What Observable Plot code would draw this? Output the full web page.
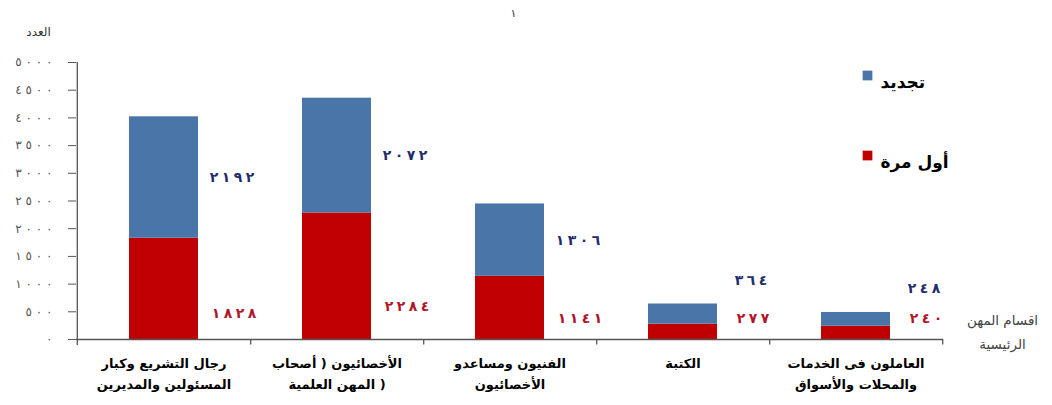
<!DOCTYPE html>
<html>
<head>
<meta charset="utf-8">
<script src="https://cdn.jsdelivr.net/npm/d3@7"></script>
<script src="https://cdn.jsdelivr.net/npm/@observablehq/plot@0.6"></script>
<style>
  html, body { margin: 0; padding: 0; background: #fff; }
</style>
</head>
<body>
<div id="chart"></div>
<script>
const categories = [
  "رجال التشريع وكبار\nالمسئولين والمديرين",
  "الأخصائيون ( أصحاب\nالمهن العلمية )",
  "الفنيون ومساعدو\nالأخصائيون",
  "الكتبة",
  "العاملون فى الخدمات\nوالمحلات والأسواق"
];
const firstTime = [1828, 2284, 1141, 277, 240];
const renewal = [2192, 2072, 1306, 364, 248];
const seriesNames = ["أول مرة", "تجديد"];
const yTicks = [0, 500, 1000, 1500, 2000, 2500, 3000, 3500, 4000, 4500, 5000];
const yTitle = "العدد";
const xTitle = "اقسام المهن\nالرئيسية";
const pageMark = "١";

const RED = "#c00000", BLUE = "#4a75a9";
// Arabic-Indic digits, spaced out, forced left-to-right
const ar = (n, sep = " ") => "\u202D" + String(n).replace(/\d/g, d => "٠١٢٣٤٥٦٧٨٩"[d]).split("").join(sep) + "\u202C";

const rows = [];
categories.forEach((c, i) => {
  rows.push({cat: c, series: seriesNames[0], value: firstTime[i]});
  rows.push({cat: c, series: seriesNames[1], value: renewal[i]});
});
// label anchors: red near the base, blue mid-segment (or above the bar when the segment is short)
const redLabels = categories.map((c, i) => ({cat: c, v: firstTime[i], y: Math.max(380, firstTime[i] * 0.26)}));
const blueLabels = categories.map((c, i) => {
  const total = firstTime[i] + renewal[i];
  return {cat: c, v: renewal[i], y: renewal[i] > 800 ? firstTime[i] + renewal[i] / 2 : total + 430};
});

const W = 1052, H = 405, ML = 76, MR = 109, MT = 62, MB = 66;
const step = (W - ML - MR) / categories.length;

const plot = Plot.plot({
  width: W, height: H,
  marginLeft: ML, marginRight: MR, marginTop: MT, marginBottom: MB,
  style: {fontFamily: "'DejaVu Sans', sans-serif", background: "#fff", color: "#000"},
  x: {domain: categories, paddingInner: 0.6, paddingOuter: 0.3, label: null},
  y: {domain: [0, 5000], label: null},
  color: {domain: seriesNames, range: [RED, BLUE]},
  marks: [
    Plot.axisY({ticks: yTicks, tickFormat: d => ar(d, " "), tickSize: 8, tickPadding: 16, fontSize: 12, fill: "#555", stroke: "#555", label: null}),
    Plot.axisX({tickSize: 0, tickPadding: 14, fontSize: 13, fontWeight: "bold", lineHeight: 1.6, label: null}),
    Plot.barY(rows, {x: "cat", y: "value", fill: "series"}),
    Plot.ruleY([0], {stroke: "#555", strokeWidth: 1.3}),
    Plot.ruleX([categories[0]], {x: d => d, dx: -step / 2, y1: -110, y2: 5000, stroke: "#555", strokeWidth: 1.3}),
    Plot.ruleX(categories, {x: d => d, dx: step / 2, y1: 0, y2: -100, stroke: "#555", strokeWidth: 1.3}),
    Plot.text(blueLabels, {x: "cat", y: "y", text: d => ar(d.v, "\u2005"), dx: 68, fontSize: 14, fontWeight: "bold", fill: "#1f2d6b"}),
    Plot.text(redLabels, {x: "cat", y: "y", text: d => ar(d.v, "\u2005"), dx: 70, fontSize: 14, fontWeight: "bold", fill: "#b0152a"}),
    // legend
    Plot.dot([seriesNames[1]], {frameAnchor: "top-left", dx: 791, dy: 13, symbol: "square", r: 5.5, fill: BLUE}),
    Plot.text([seriesNames[1]], {frameAnchor: "top-left", dx: 804, dy: 13, text: d => d, textAnchor: "start", fontSize: 17, fontWeight: "bold"}),
    Plot.dot([seriesNames[0]], {frameAnchor: "top-left", dx: 791, dy: 93, symbol: "square", r: 5.5, fill: RED}),
    Plot.text([seriesNames[0]], {frameAnchor: "top-left", dx: 804, dy: 93, text: d => d, textAnchor: "start", fontSize: 17, fontWeight: "bold"}),
    // titles
    Plot.text([yTitle], {frameAnchor: "top-left", dx: -38, dy: -35, text: d => d, textAnchor: "middle", fontSize: 12, fill: "#333"}),
    Plot.text([pageMark], {frameAnchor: "top-left", dx: 437, dy: -53, text: d => d, textAnchor: "middle", fontSize: 11, fill: "#333"}),
    Plot.text([xTitle], {frameAnchor: "top-left", dx: 926, dy: 246, text: d => d, textAnchor: "middle", fontSize: 13.5, lineHeight: 1.75, fill: "#444"})
  ]
});
document.getElementById("chart").appendChild(plot);
</script>
</body>
</html>
